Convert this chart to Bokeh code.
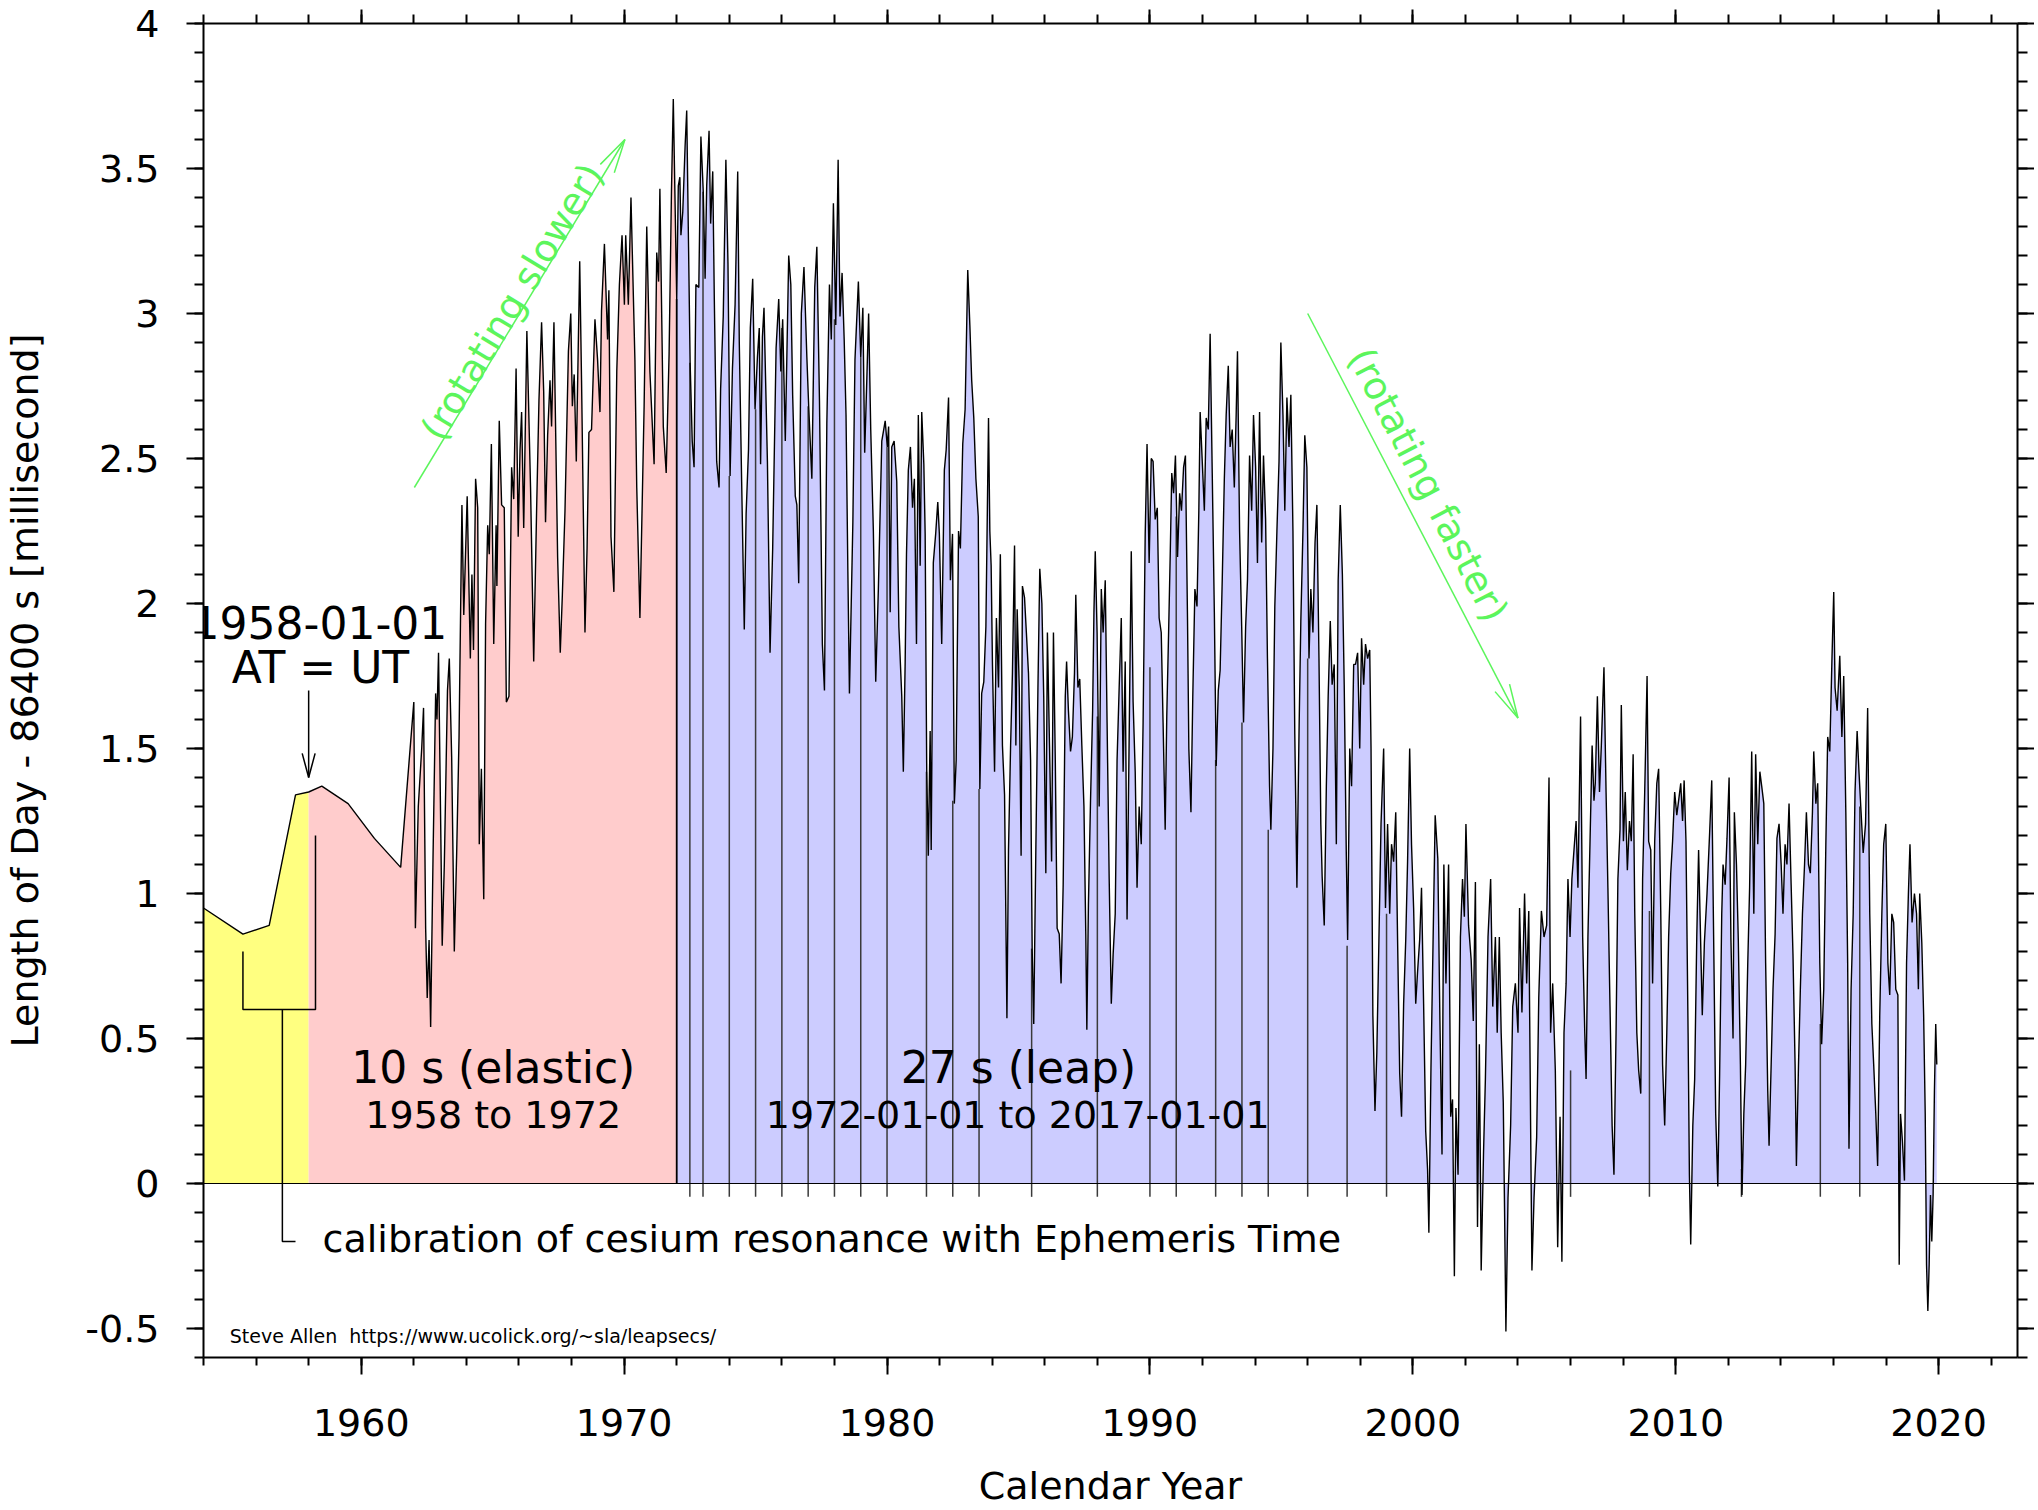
import numpy as np
from bokeh.plotting import figure
from bokeh.models import (Range1d, LinearAxis, SingleIntervalTicker, CustomJSTickFormatter,
                          Label, Span)
from bokeh.embed import file_html
from bokeh.resources import INLINE

# ---------------- data ----------------
yr_early = [1954.0, 1955.5, 1956.5, 1957.5, 1958.0, 1958.5, 1959.5, 1960.5, 1961.5]
lod_early = [0.95, 0.86, 0.89, 1.34, 1.35, 1.37, 1.31, 1.19, 1.09]

yr_60s = [1962.00, 1962.06, 1962.17, 1962.30, 1962.37, 1962.45, 1962.51, 1962.58, 1962.64, 1962.73,
          1962.83, 1962.88, 1962.94, 1963.08, 1963.16, 1963.28, 1963.35, 1963.44, 1963.54, 1963.63,
          1963.72, 1963.83, 1963.90, 1964.03, 1964.15, 1964.21, 1964.27, 1964.35, 1964.43, 1964.49,
          1964.57, 1964.66, 1964.73, 1964.81, 1964.87, 1964.95, 1965.04, 1965.13, 1965.16, 1965.25,
          1965.34, 1965.44, 1965.52, 1965.62, 1965.72, 1965.80, 1965.89, 1965.97, 1966.04, 1966.10,
          1966.18, 1966.30, 1966.44, 1966.56, 1966.67, 1966.76, 1966.86, 1966.94, 1967.01, 1967.09,
          1967.18, 1967.24, 1967.33, 1967.47, 1967.57, 1967.65, 1967.75, 1967.88, 1967.97, 1968.03,
          1968.10, 1968.18, 1968.31, 1968.38, 1968.51, 1968.59, 1968.66, 1968.76, 1968.89, 1968.99,
          1969.08, 1969.14, 1969.25, 1969.37, 1969.42, 1969.50, 1969.61, 1969.72, 1969.82, 1969.92,
          1970.01, 1970.06, 1970.16, 1970.26, 1970.41]
lod_60s = [1.66, 0.88, 1.30, 1.50, 1.64, 0.88, 0.64, 0.84, 0.54, 1.12,
           1.69, 1.60, 1.83, 0.82, 1.10, 1.70, 1.81, 1.47, 0.80, 1.14,
           1.54, 2.34, 1.96, 2.37, 1.81, 2.10, 1.84, 2.43, 2.33, 1.17,
           1.43, 0.98, 1.93, 2.27, 2.17, 2.55, 1.86, 2.27, 2.06, 2.63,
           2.34, 2.33, 1.66, 1.68, 2.47, 2.36, 2.81, 2.23, 2.53, 2.66,
           2.26, 2.94, 2.40, 1.80, 2.32, 2.70, 2.97, 2.73, 2.28, 2.58,
           2.77, 2.61, 2.97, 2.16, 1.83, 2.03, 2.32, 2.87, 3.00, 2.68,
           2.79, 2.49, 3.18, 2.77, 1.90, 2.19, 2.59, 2.60, 2.98, 2.84,
           2.66, 3.01, 3.24, 2.91, 3.08, 2.23, 2.04, 2.80, 3.10, 3.27,
           3.03, 3.27, 3.03, 3.40, 2.84]

yr_70s = [1970.48, 1970.60, 1970.76, 1970.86, 1970.98, 1971.14, 1971.24, 1971.31, 1971.36, 1971.49,
          1971.60, 1971.71, 1971.80, 1971.87, 1972.00, 1972.06, 1972.12, 1972.16, 1972.23, 1972.32,
          1972.38, 1972.45, 1972.51, 1972.59, 1972.66, 1972.73, 1972.84, 1972.92, 1973.01, 1973.08,
          1973.14, 1973.23, 1973.29, 1973.37, 1973.43, 1973.52, 1973.61, 1973.67, 1973.77, 1973.87,
          1973.95, 1974.03, 1974.12, 1974.22, 1974.32, 1974.38, 1974.47, 1974.57, 1974.64, 1974.73,
          1974.80, 1974.89, 1974.98, 1975.07, 1975.14, 1975.19, 1975.26, 1975.32, 1975.45, 1975.55,
          1975.65, 1975.78, 1975.88, 1975.96, 1976.03, 1976.13, 1976.26, 1976.34, 1976.41, 1976.51,
          1976.57, 1976.64, 1976.74, 1976.84, 1976.95, 1977.02, 1977.14, 1977.25, 1977.33, 1977.43,
          1977.54, 1977.62, 1977.71, 1977.81, 1977.88, 1977.96, 1978.05, 1978.14, 1978.21, 1978.29,
          1978.37, 1978.44, 1978.51, 1978.57, 1978.70, 1978.78, 1978.91, 1979.00, 1979.08, 1979.15,
          1979.23, 1979.30, 1979.38, 1979.48, 1979.57, 1979.67, 1979.80, 1979.93, 1980.01, 1980.06,
          1980.12, 1980.18, 1980.27, 1980.37, 1980.45]
lod_70s = [2.40, 1.95, 2.68, 3.30, 2.80, 2.48, 3.21, 3.11, 3.43, 2.61,
           2.45, 2.86, 3.42, 3.74, 3.05, 3.44, 3.47, 3.27, 3.35, 3.58,
           3.70, 3.23, 2.83, 2.56, 2.47, 3.10, 3.09, 3.61, 3.42, 3.12,
           3.44, 3.63, 3.31, 3.49, 3.05, 2.49, 2.40, 2.74, 2.99, 3.53,
           3.17, 2.44, 2.81, 3.03, 3.49, 2.90, 2.42, 1.91, 2.31, 2.53,
           2.95, 3.12, 2.67, 2.85, 2.95, 2.48, 2.92, 3.02, 2.49, 1.83,
           2.19, 2.88, 3.05, 2.80, 2.98, 2.56, 3.20, 3.10, 2.72, 2.37,
           2.34, 2.07, 3.00, 3.16, 2.85, 2.68, 2.43, 3.09, 3.23, 2.70,
           1.86, 1.70, 2.62, 3.10, 2.91, 3.38, 2.96, 3.53, 2.99, 3.14,
           2.91, 2.65, 2.11, 1.69, 2.28, 2.84, 3.11, 2.85, 3.02, 2.52,
           2.77, 3.00, 2.60, 2.25, 1.73, 2.05, 2.56, 2.63, 2.54, 2.61,
           1.97, 2.54, 2.56, 2.42, 1.92]

yr_80s = [1980.56, 1980.62, 1980.69, 1980.74, 1980.81, 1980.89, 1980.97, 1981.04, 1981.12, 1981.19,
          1981.26, 1981.32, 1981.40, 1981.45, 1981.51, 1981.57, 1981.64, 1981.68, 1981.76, 1981.85,
          1981.93, 1981.99, 1982.08, 1982.18, 1982.25, 1982.34, 1982.41, 1982.49, 1982.56, 1982.63,
          1982.72, 1982.79, 1982.88, 1982.97, 1983.07, 1983.15, 1983.22, 1983.30, 1983.38, 1983.47,
          1983.53, 1983.60, 1983.68, 1983.76, 1983.86, 1983.91, 1983.96, 1984.01, 1984.09, 1984.16,
          1984.24, 1984.31, 1984.39, 1984.47, 1984.56, 1984.62, 1984.70, 1984.77, 1984.85, 1984.90,
          1984.95, 1985.03, 1985.10, 1985.15, 1985.23, 1985.30, 1985.38, 1985.46, 1985.52, 1985.58,
          1985.66, 1985.74, 1985.81, 1985.89, 1985.96, 1986.04, 1986.10, 1986.18, 1986.26, 1986.33,
          1986.40, 1986.47, 1986.55, 1986.62, 1986.70, 1986.78, 1986.83, 1986.90, 1986.98, 1987.05,
          1987.13, 1987.18, 1987.26, 1987.33, 1987.41, 1987.49, 1987.56, 1987.60, 1987.66, 1987.74,
          1987.82, 1987.87, 1987.92, 1987.99, 1988.07, 1988.15, 1988.22, 1988.30, 1988.37, 1988.45,
          1988.53, 1988.60, 1988.68, 1988.75, 1988.83, 1988.91, 1988.98, 1989.06, 1989.13, 1989.21,
          1989.29, 1989.36, 1989.44, 1989.51, 1989.59, 1989.67, 1989.74, 1989.82, 1989.89, 1989.97,
          1990.05, 1990.12, 1990.20, 1990.28, 1990.35, 1990.43, 1990.50, 1990.58]
lod_80s = [1.68, 1.42, 1.80, 2.17, 2.46, 2.54, 2.33, 2.43, 1.86, 2.65,
           2.13, 2.66, 2.48, 2.24, 1.42, 1.13, 1.56, 1.15, 2.14, 2.24,
           2.35, 2.24, 1.86, 2.46, 2.53, 2.71, 2.08, 2.24, 1.31, 1.46,
           2.25, 2.19, 2.55, 2.67, 3.15, 2.96, 2.77, 2.64, 2.43, 2.30,
           1.36, 1.69, 1.73, 1.92, 2.64, 2.25, 2.13, 1.79, 1.42, 1.95,
           1.71, 2.17, 1.51, 1.34, 0.57, 1.15, 1.51, 1.76, 2.20, 1.51,
           1.98, 1.71, 1.13, 2.06, 2.02, 1.90, 1.76, 1.46, 0.81, 0.55,
           1.15, 1.71, 2.12, 2.00, 1.68, 1.07, 1.90, 1.51, 1.11, 1.90,
           1.46, 0.88, 0.86, 0.69, 1.03, 1.68, 1.80, 1.63, 1.49, 1.54,
           1.76, 2.03, 1.71, 1.74, 1.51, 1.30, 0.86, 0.53, 0.96, 1.32,
           1.63, 1.97, 2.18, 1.90, 1.30, 2.05, 1.90, 2.08, 1.59, 1.05,
           0.62, 0.79, 0.93, 1.46, 1.71, 1.95, 1.42, 1.80, 0.91, 1.54,
           2.18, 1.66, 1.42, 1.02, 1.30, 1.17, 1.59, 2.24, 2.55, 2.14,
           2.50, 2.49, 2.29, 2.33, 1.95, 1.90, 1.59, 1.22]

yr_90s = [1990.64, 1990.71, 1990.77, 1990.83, 1990.90, 1990.97, 1991.05, 1991.13, 1991.20, 1991.28,
          1991.35, 1991.43, 1991.48, 1991.56, 1991.63, 1991.71, 1991.79, 1991.86, 1991.91, 1991.99,
          1992.07, 1992.14, 1992.22, 1992.29, 1992.37, 1992.45, 1992.52, 1992.60, 1992.67, 1992.75,
          1992.83, 1992.90, 1992.98, 1993.05, 1993.13, 1993.21, 1993.28, 1993.33, 1993.41, 1993.49,
          1993.56, 1993.64, 1993.71, 1993.79, 1993.87, 1993.94, 1994.02, 1994.09, 1994.17, 1994.25,
          1994.32, 1994.40, 1994.47, 1994.55, 1994.60, 1994.68, 1994.75, 1994.83, 1994.91, 1994.98,
          1995.06, 1995.13, 1995.21, 1995.29, 1995.36, 1995.44, 1995.51, 1995.59, 1995.67, 1995.74,
          1995.82, 1995.89, 1995.97, 1996.05, 1996.12, 1996.20, 1996.28, 1996.35, 1996.43, 1996.50,
          1996.55, 1996.63, 1996.71, 1996.78, 1996.86, 1996.93, 1997.01, 1997.09, 1997.16, 1997.24,
          1997.32, 1997.39, 1997.47, 1997.52, 1997.60, 1997.67, 1997.75, 1997.82, 1997.90, 1997.98,
          1998.05, 1998.13, 1998.20, 1998.28, 1998.36, 1998.41, 1998.48, 1998.56, 1998.63, 1998.71,
          1998.79, 1998.89, 1998.96, 1999.04, 1999.12, 1999.19, 1999.27, 1999.35, 1999.42, 1999.50,
          1999.57, 1999.65, 1999.73, 1999.80, 1999.88, 1999.95, 2000.03, 2000.11, 2000.18, 2000.26,
          2000.33, 2000.41, 2000.49, 2000.56, 2000.61, 2000.69]
lod_90s = [1.61, 1.90, 2.16, 2.45, 2.38, 2.51, 2.16, 2.38, 2.32, 2.47,
           2.51, 1.94, 1.50, 1.28, 1.68, 2.05, 1.99, 2.32, 2.66, 2.49,
           2.32, 2.64, 2.60, 2.93, 2.45, 1.97, 1.44, 1.70, 1.77, 2.08,
           2.43, 2.65, 2.82, 2.54, 2.60, 2.40, 2.65, 2.87, 2.25, 1.92,
           1.59, 1.92, 2.08, 2.51, 2.32, 2.65, 2.47, 2.14, 2.66, 2.21,
           2.51, 2.29, 1.81, 1.37, 1.22, 1.50, 1.99, 2.25, 2.49, 2.90,
           2.65, 2.32, 2.71, 2.54, 2.72, 2.25, 1.55, 1.02, 1.55, 1.94,
           2.25, 2.58, 2.47, 1.81, 2.05, 1.90, 2.21, 2.34, 1.81, 1.24,
           1.06, 0.89, 1.37, 1.68, 1.94, 1.72, 1.79, 1.17, 2.08, 2.34,
           2.10, 1.72, 1.13, 0.84, 1.50, 1.37, 1.79, 1.79, 1.83, 1.50,
           1.88, 1.72, 1.86, 1.81, 1.84, 1.50, 0.58, 0.25, 0.45, 0.84,
           1.24, 1.50, 0.95, 1.24, 0.93, 1.17, 1.11, 1.28, 0.84, 0.38,
           0.23, 0.62, 0.84, 1.11, 1.50, 1.17, 0.95, 0.62, 0.73, 0.84,
           1.02, 0.62, 0.18, 0.05, -0.17, 0.40]

yr_00s = [2000.85, 2000.95, 2001.03, 2001.11, 2001.18, 2001.26, 2001.36, 2001.44, 2001.51, 2001.58,
          2001.64, 2001.72, 2001.81, 2001.89, 2001.96, 2002.02, 2002.12, 2002.22, 2002.30, 2002.38,
          2002.46, 2002.53, 2002.60, 2002.69, 2002.76, 2002.86, 2002.96, 2003.04, 2003.14, 2003.21,
          2003.29, 2003.36, 2003.44, 2003.49, 2003.54, 2003.62, 2003.72, 2003.80, 2003.90, 2004.00,
          2004.06, 2004.15, 2004.25, 2004.33, 2004.41, 2004.48, 2004.53, 2004.61, 2004.71, 2004.79,
          2004.89, 2004.99, 2005.09, 2005.18, 2005.24, 2005.32, 2005.42, 2005.51, 2005.60, 2005.67,
          2005.75, 2005.83, 2005.90, 2005.98, 2006.05, 2006.13, 2006.21, 2006.28, 2006.38, 2006.46,
          2006.54, 2006.59, 2006.66, 2006.74, 2006.82, 2006.89, 2006.94, 2007.02, 2007.10, 2007.17,
          2007.27, 2007.35, 2007.42, 2007.50, 2007.58, 2007.65, 2007.73, 2007.80, 2007.88, 2007.93,
          2008.01, 2008.08, 2008.16, 2008.24, 2008.31, 2008.38, 2008.44, 2008.52, 2008.59, 2008.67,
          2008.74, 2008.82, 2008.91, 2008.97, 2009.05, 2009.12, 2009.20, 2009.28, 2009.35, 2009.43,
          2009.50, 2009.58, 2009.66, 2009.73, 2009.81, 2009.88, 2009.96, 2010.04, 2010.11, 2010.19,
          2010.26, 2010.32, 2010.39, 2010.47, 2010.52, 2010.57, 2010.65, 2010.72, 2010.80, 2010.87]
lod_00s = [1.27, 1.12, 0.56, 0.10, 1.10, 0.69, 1.10, 0.23, 0.29, -0.32,
           0.26, 0.03, 0.85, 1.05, 0.92, 1.24, 0.89, 0.77, 0.56, 1.04,
           -0.15, 0.48, -0.30, 0.11, 0.36, 0.85, 1.05, 0.61, 0.85, 0.52,
           0.85, 0.52, 0.28, -0.10, -0.51, -0.05, 0.20, 0.61, 0.69, 0.52,
           0.95, 0.59, 1.00, 0.69, 0.94, 0.20, -0.30, -0.05, 0.16, 0.64,
           0.94, 0.85, 0.89, 1.40, 0.52, 0.69, 0.39, -0.22, 0.23, -0.27,
           0.52, 0.69, 1.05, 0.85, 1.05, 1.15, 1.25, 1.02, 1.61, 0.85,
           0.52, 0.36, 0.85, 1.18, 1.51, 1.32, 1.38, 1.68, 1.35, 1.51,
           1.78, 1.35, 1.02, 0.61, 0.20, 0.03, 0.52, 1.05, 1.22, 1.65,
           1.18, 1.35, 1.08, 1.25, 1.18, 1.48, 0.94, 0.52, 0.39, 0.31,
           1.05, 1.35, 1.75, 1.18, 1.15, 0.69, 1.18, 1.38, 1.43, 0.94,
           0.41, 0.20, 0.52, 0.85, 1.07, 1.18, 1.35, 1.27, 1.32, 1.38,
           1.25, 1.39, 1.18, 0.52, 0.03, -0.21, 0.20, 0.36, 0.85, 1.15]

yr_10s = [2011.01, 2011.09, 2011.19, 2011.29, 2011.37, 2011.45, 2011.52, 2011.60, 2011.67, 2011.75,
          2011.80, 2011.88, 2011.95, 2012.03, 2012.10, 2012.18, 2012.23, 2012.31, 2012.38, 2012.46,
          2012.52, 2012.59, 2012.66, 2012.74, 2012.81, 2012.89, 2012.97, 2013.04, 2013.12, 2013.20,
          2013.27, 2013.35, 2013.42, 2013.50, 2013.55, 2013.63, 2013.70, 2013.78, 2013.85, 2013.93,
          2014.01, 2014.08, 2014.16, 2014.23, 2014.31, 2014.39, 2014.46, 2014.54, 2014.59, 2014.67,
          2014.74, 2014.82, 2014.90, 2014.97, 2015.05, 2015.12, 2015.20, 2015.25, 2015.33, 2015.40,
          2015.48, 2015.55, 2015.63, 2015.71, 2015.78, 2015.86, 2015.94, 2016.01, 2016.06, 2016.14,
          2016.24, 2016.32, 2016.39, 2016.47, 2016.54, 2016.59, 2016.67, 2016.75, 2016.82, 2016.90,
          2016.97, 2017.05, 2017.13, 2017.22, 2017.30, 2017.38, 2017.46, 2017.53, 2017.61, 2017.68,
          2017.76, 2017.84, 2017.91, 2017.99, 2018.07, 2018.14, 2018.22, 2018.29, 2018.37, 2018.45,
          2018.50, 2018.55, 2018.62, 2018.70, 2018.78, 2018.85, 2018.91, 2018.99, 2019.08, 2019.16,
          2019.23, 2019.28, 2019.36, 2019.43, 2019.49, 2019.54, 2019.59, 2019.64, 2019.69, 2019.74,
          2019.79, 2019.84, 2019.89, 2019.93]
lod_10s = [0.58, 0.83, 1.00, 1.21, 1.39, 0.79, 0.24, -0.01, 0.38, 0.93,
           1.10, 1.03, 1.19, 1.40, 0.84, 0.50, 1.28, 1.10, 0.84, 0.41,
           -0.04, 0.24, 0.41, 0.76, 1.02, 1.49, 0.93, 1.48, 1.17, 1.42,
           1.37, 1.31, 0.76, 0.32, 0.13, 0.41, 0.67, 0.86, 1.19, 1.24,
           1.10, 0.93, 1.17, 1.10, 1.31, 1.03, 0.79, 0.41, 0.06, 0.41,
           0.67, 0.93, 1.10, 1.28, 1.10, 1.07, 1.28, 1.49, 1.31, 1.38,
           0.76, 0.48, 0.67, 1.17, 1.54, 1.49, 1.80, 2.04, 1.71, 1.63,
           1.82, 1.54, 1.75, 1.28, 0.76, 0.12, 0.67, 0.93, 1.35, 1.56,
           1.42, 1.28, 1.14, 1.24, 1.64, 0.93, 0.55, 0.41, 0.24, 0.06,
           0.58, 0.93, 1.17, 1.24, 0.76, 0.65, 0.93, 0.90, 0.67, 0.65,
           -0.28, 0.24, 0.15, 0.01, 0.76, 1.00, 1.17, 0.90, 1.00, 0.93,
           0.67, 1.00, 0.83, 0.58, 0.24, -0.28, -0.44, -0.28, -0.04, -0.20,
           -0.04, 0.32, 0.55, 0.41]

# leap-second dates and the LOD value where each impulse line ends
leap_dates = [1972.5, 1973.0, 1974.0, 1975.0, 1976.0, 1977.0, 1978.0, 1979.0, 1980.0,
              1981.5, 1982.5, 1983.5, 1985.5, 1988.0, 1990.0, 1991.0, 1992.5, 1993.5,
              1994.5, 1996.0, 1997.5, 1999.0, 2006.0, 2009.0, 2012.5, 2015.5, 2017.0]
leap_tops = [2.83, 3.42, 2.44, 2.67, 2.95, 2.68, 2.98, 2.85, 2.54,
             1.42, 1.32, 1.36, 0.81, 1.61, 1.78, 2.30, 1.46, 1.59,
             1.22, 1.81, 0.82, 0.93, 0.39, 0.94, 0.05, 0.55, 1.30]
leap_start, leap_start_top = 1972.0, 3.05

era_bounds = [1958.0, 1972.0]

# ---------------- layout constants ----------------
X0, X1 = 1954.0, 2023.0
Y0, Y1 = -0.6, 4.0
FW, FH = 1814, 1334
FONT = "DejaVu Sans"
GREEN = "#5cf55c"
YELLOW, PINK, LAVENDER = "#ffff80", "#ffcccc", "#ccccff"

yrs = np.array(yr_early + yr_60s + yr_70s + yr_80s + yr_90s + yr_00s + yr_10s)
lod = np.array(lod_early + lod_60s + lod_70s + lod_80s + lod_90s + lod_00s + lod_10s)

p = figure(frame_width=FW, frame_height=FH, x_range=Range1d(X0, X1), y_range=Range1d(Y0, Y1),
           output_backend="svg", toolbar_location=None,
           x_axis_location=None, y_axis_location=None,
           min_border_left=196, min_border_top=23, min_border_right=14, min_border_bottom=20)
p.grid.visible = False
p.outline_line_color = None
p.background_fill_color = "white"
p.border_fill_color = "white"


def style_axis(ax, tick_out, minor_out, labels=True):
    ax.axis_line_width = 2
    ax.axis_line_color = "black"
    ax.major_tick_line_width = 2
    ax.minor_tick_line_width = 2
    ax.major_tick_in = 0
    ax.minor_tick_in = 0
    ax.major_tick_out = tick_out
    ax.minor_tick_out = minor_out
    if labels:
        ax.major_label_text_font = FONT
        ax.major_label_text_font_size = "38px"
        ax.major_label_text_color = "black"
        ax.axis_label_text_font = FONT
        ax.axis_label_text_font_size = "38px"
        ax.axis_label_text_font_style = "normal"
        ax.axis_label_text_color = "black"
    else:
        ax.major_label_text_font_size = "0px"
        ax.major_label_text_color = None
        ax.major_label_standoff = 0


def xt():
    return SingleIntervalTicker(interval=10, num_minor_ticks=5)


def yt():
    return SingleIntervalTicker(interval=0.5, num_minor_ticks=5)


yfmt = CustomJSTickFormatter(code="return tick.toString();")

ax_b = LinearAxis(ticker=xt(), axis_label="Calendar Year")
style_axis(ax_b, 17, 8)
ax_b.major_label_standoff = 34
ax_b.axis_label_standoff = 25
p.add_layout(ax_b, "below")

ax_l = LinearAxis(ticker=yt(), formatter=yfmt, axis_label="Length of Day - 86400 s [millisecond]")
style_axis(ax_l, 17, 9)
ax_l.major_label_standoff = 27
ax_l.axis_label_standoff = 35
p.add_layout(ax_l, "left")

ax_t = LinearAxis(ticker=xt())
style_axis(ax_t, 14, 9, labels=False)
p.add_layout(ax_t, "above")

ax_r = LinearAxis(ticker=yt())
style_axis(ax_r, 17, 10, labels=False)
p.add_layout(ax_r, "right")

# ---------------- fills ----------------
m_y = yrs <= era_bounds[0]
m_p = (yrs >= era_bounds[0]) & (yrs <= era_bounds[1])
m_l = yrs >= era_bounds[1]
p.varea(x=yrs[m_y], y1=0, y2=lod[m_y], fill_color=YELLOW)
p.varea(x=yrs[m_p], y1=0, y2=lod[m_p], fill_color=PINK)
p.varea(x=yrs[m_l], y1=0, y2=lod[m_l], fill_color=LAVENDER)

# leap-second impulses
p.segment(x0=leap_dates, y0=-0.046, x1=leap_dates, y1=leap_tops, line_color="#3a3a3a", line_width=1.5)
p.segment(x0=[leap_start], y0=0, x1=[leap_start], y1=[leap_start_top], line_color="black", line_width=1.8)

p.add_layout(Span(location=0, dimension="width", line_color="black", line_width=1))

# LOD curve
p.line(yrs, lod, line_color="black", line_width=1.4)

# ---------------- annotations ----------------
sx = FW / (X1 - X0)
sy = FH / (Y1 - Y0)


def arrow(x0, y0, x1, y1, color, length_px, half_deg, width):
    p.line([x0, x1], [y0, y1], line_color=color, line_width=width)
    dxp, dyp = (x0 - x1) * sx, (y0 - y1) * sy
    n = np.hypot(dxp, dyp)
    ux, uy = dxp / n, dyp / n
    a = np.radians(half_deg)
    hx, hy = [], []
    for s in (1, -1):
        c, si = np.cos(s * a), np.sin(s * a)
        rx, ry = ux * c - uy * si, ux * si + uy * c
        hx.append(x1 + rx * length_px / sx)
        hy.append(y1 + ry * length_px / sy)
    p.line([hx[0], x1, hx[1]], [hy[0], y1, hy[1]], line_color=color, line_width=width)
    return np.arctan2((y1 - y0) * sy, (x1 - x0) * sx)


def label(x, y, text, size, color="black", align="center", angle=0.0):
    p.add_layout(Label(x=x, y=y, text=text, text_font=FONT, text_font_size=size,
                       text_color=color, text_align=align, text_baseline="middle", angle=angle))


slow = (1962.02, 2.40, 1970.03, 3.60)
fast = (1996.0, 3.00, 2004.0, 1.605)
a_slow = arrow(*slow, GREEN, 35, 13.5, 1.5)
a_fast = arrow(*fast, GREEN, 35, 13.5, 1.5)
label(1965.75, 3.04, "(rotating slower)", "38px", GREEN, angle=a_slow)
label(2000.58, 2.41, "(rotating faster)", "38px", GREEN, angle=a_fast)

arrow(1958.0, 1.70, 1958.0, 1.40, "black", 25, 15, 1.5)
label(1958.41, 1.936, "1958-01-01", "44px")
label(1958.45, 1.778, "AT = UT", "44px")

label(1965.02, 0.40, "10 s (elastic)", "44px")
label(1965.02, 0.235, "1958 to 1972", "38px")
label(1985.0, 0.40, "27 s (leap)", "44px")
label(1984.97, 0.235, "1972-01-01 to 2017-01-01", "38px")

bracket_x = [1955.5, 1955.5, 1958.26, 1958.26]
bracket_y = [0.80, 0.60, 0.60, 1.20]
stem_x = [1957.0, 1957.0, 1957.5]
stem_y = [0.60, -0.20, -0.20]
p.line(bracket_x, bracket_y, line_color="black", line_width=1.5)
p.line(stem_x, stem_y, line_color="black", line_width=1.5)
label(1958.53, -0.19, "calibration of cesium resonance with Ephemeris Time", "38px", align="left")
label(1955.0, -0.526, "Steve Allen\u00a0 https://www.ucolick.org/~sla/leapsecs/", "19px", align="left")

open("out.html", "w").write(file_html(p, INLINE))
